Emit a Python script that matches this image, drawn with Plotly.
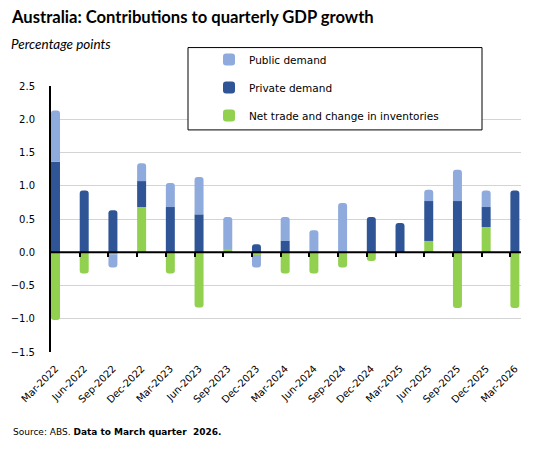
import plotly.graph_objects as go

categories = ["Mar-2022", "Jun-2022", "Sep-2022", "Dec-2022", "Mar-2023", "Jun-2023",
              "Sep-2023", "Dec-2023", "Mar-2024", "Jun-2024", "Sep-2024", "Dec-2024",
              "Mar-2025", "Jun-2025", "Sep-2025", "Dec-2025", "Mar-2026"]
net_trade = [-1.02, -0.32, -0.03, 0.68, -0.32, -0.83, 0.05, -0.04, -0.32, -0.32,
             -0.23, -0.13, 0.0, 0.17, -0.84, 0.38, -0.84]
private_demand = [1.36, 0.93, 0.63, 0.39, 0.68, 0.57, 0.0, 0.12, 0.17, 0.0,
                  0.0, 0.53, 0.44, 0.60, 0.77, 0.30, 0.93]
public_demand = [0.77, 0.0, -0.20, 0.27, 0.36, 0.56, 0.48, -0.19, 0.36, 0.33,
                 0.74, 0.0, 0.0, 0.17, 0.47, 0.25, 0.0]
y_ticks = [-1.5, -1.0, -0.5, 0.0, 0.5, 1.0, 1.5, 2.0, 2.5]

W, H = 548, 454
L, R, T, B = 51, 521, 86, 352.5
BAR_W = 0.313
X_MAX = 16.37


def px2x(px):
    return (px - L) / (R - L)


def px2y(py):
    return (B - py) / (B - T)


xs = list(range(len(categories)))
series = [
    ("Net trade and change in inventories", net_trade, "#92D050", 3),
    ("Private demand", private_demand, "#2F5597", 2),
    ("Public demand", public_demand, "#8FAADC", 1),
]

fig = go.Figure()
for name, vals, col, rank in series:
    fig.add_trace(go.Bar(
        x=xs, y=vals, name=name, legendgroup=name, legendrank=rank,
        offset=0, width=BAR_W,
        marker=dict(color=col, line=dict(width=0), cornerradius=3),
    ))

# invisible trace for boundary tick axis
fig.add_trace(go.Scatter(x=[0], y=[0], xaxis="x2", mode="markers",
                         marker=dict(opacity=0), showlegend=False, hoverinfo="skip"))

fig.update_layout(
    width=W, height=H,
    margin=dict(l=L, r=W - R, t=T, b=H - B),
    paper_bgcolor="white", plot_bgcolor="white",
    barmode="relative",
    font=dict(family="DejaVu Sans", size=10, color="black"),
    showlegend=True,
    legend=dict(
        x=px2x(209), y=px2y(45), xanchor="left", yanchor="top",
        bgcolor="rgba(0,0,0,0)", borderwidth=0,
        traceorder="grouped", tracegroupgap=9,
        font=dict(family="DejaVu Sans", size=10.5, color="black"),
        itemwidth=30,
    ),
    xaxis=dict(
        range=[0, X_MAX], tickmode="array",
        tickvals=[i + BAR_W / 2 for i in xs], ticktext=categories,
        tickangle=-45, ticks="", showgrid=False, showline=False, zeroline=False,
        ticklabelstandoff=8,
        tickfont=dict(family="DejaVu Sans", size=10, color="black"),
    ),
    xaxis2=dict(
        overlaying="x", anchor="free", position=0.375, side="bottom",
        range=[0, X_MAX], tickmode="array", tickvals=xs[1:],
        ticks="outside", ticklen=4, tickwidth=2, tickcolor="black",
        showticklabels=False, showgrid=False, showline=False, zeroline=False,
    ),
    yaxis=dict(
        range=[-1.5, 2.5], tickmode="array", tickvals=y_ticks,
        tickformat=".1f", showgrid=True, gridcolor="#D4D4D4", gridwidth=1,
        zeroline=False,
        showline=True, linecolor="black", linewidth=2,
        ticks="", ticklabelstandoff=12,
        tickfont=dict(family="DejaVu Sans", size=10, color="black"),
    ),
    shapes=[
        dict(type="rect", xref="paper", yref="paper",
             x0=px2x(188), x1=px2x(482), y0=px2y(130), y1=px2y(47.5),
             fillcolor="white", line=dict(color="black", width=1), layer="above"),
        dict(type="line", xref="paper", yref="y", x0=0, x1=1, y0=0, y1=0,
             line=dict(color="black", width=2), layer="above"),
    ],
    annotations=[
        dict(text="<b>Australia: Contributions to quarterly GDP growth</b>",
             xref="paper", yref="paper", x=px2x(9), y=px2y(4.5),
             xanchor="left", yanchor="top", showarrow=False,
             font=dict(family="Lato", size=16.6, color="black")),
        dict(text="<i>Percentage points</i>",
             xref="paper", yref="paper", x=px2x(9), y=px2y(34),
             xanchor="left", yanchor="top", showarrow=False,
             font=dict(family="Lato", size=13.5, color="black")),
        dict(text="Source: ABS. <b>Data to March quarter  2026.</b>",
             xref="paper", yref="paper", x=px2x(11), y=px2y(426),
             xanchor="left", yanchor="top", showarrow=False,
             font=dict(family="DejaVu Sans", size=9, color="black")),
    ],
)

fig.write_html("out.html")
